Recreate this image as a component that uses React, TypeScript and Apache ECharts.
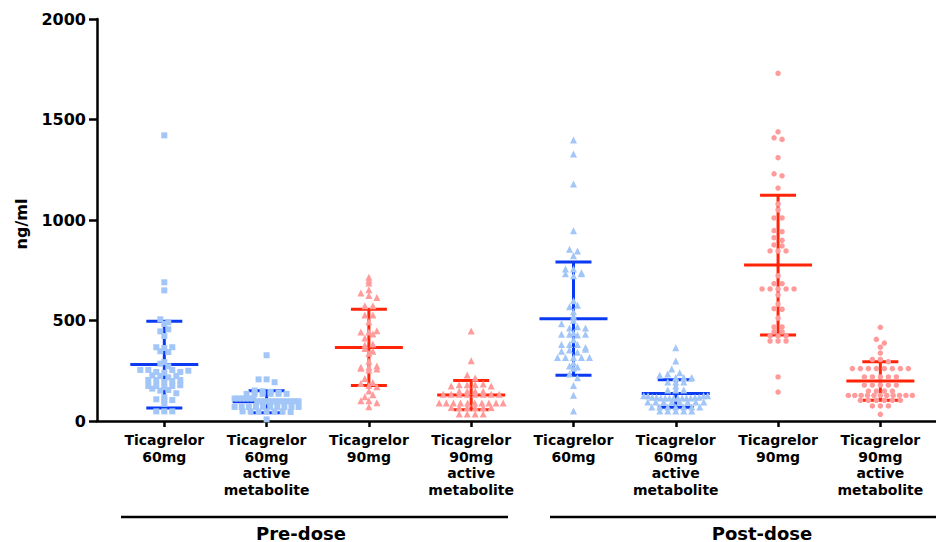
import React, { useEffect, useRef } from "react";
import * as echarts from "echarts";

const categories = [
  "Ticagrelor\n60mg",
  "Ticagrelor\n60mg\nactive\nmetabolite",
  "Ticagrelor\n90mg",
  "Ticagrelor\n90mg\nactive\nmetabolite",
  "Ticagrelor\n60mg",
  "Ticagrelor\n60mg\nactive\nmetabolite",
  "Ticagrelor\n90mg",
  "Ticagrelor\n90mg\nactive\nmetabolite",
];
const groupLabels = ["Pre-dose", "Post-dose"];
const yTicks = [0, 500, 1000, 1500, 2000];
const yTitle = "ng/ml";

const pre60 = [1421, 690, 650, 506, 491, 483, 446, 456, 423, 367, 347, 343, 363, 367, 285, 272, 293,
  254, 254, 244, 240, 254, 227, 244, 250, 224, 204, 204, 194, 199, 204, 217, 224,
  174, 174, 161, 151, 154, 138, 168, 174, 178, 108, 104, 118, 85, 104, 48, 48, 48];
const pre60AM = [327, 207, 207, 193, 152, 148, 145, 142, 135, 135, 135, 135, 135, 135,
  112, 112, 112, 112, 112, 112, 98, 98, 98, 98, 98, 98, 98, 98, 98, 98, 98, 98,
  70, 70, 70, 70, 70, 70, 70, 70, 70, 70, 48, 48, 48, 48, 48, 48, 45, 8];
const pre90 = [715, 687, 700, 653, 637, 625, 615, 574, 574, 527, 527, 494, 443, 443, 449, 413, 433,
  378, 383, 361, 347, 337, 297, 267, 262, 254, 259, 267, 274, 212, 187, 192, 176, 171, 149, 121,
  131, 101, 101, 91, 71];
const pre90AM = [448, 300, 229, 214, 174, 180, 180, 180, 184, 174, 148, 148, 148, 148,
  133, 133, 133, 133, 133, 133, 133, 133, 89, 89, 89, 89, 89, 89, 89, 89, 89, 89,
  67, 67, 67, 67, 67, 67, 35, 35, 35, 35];
const post60 = [1398, 1328, 1179, 947, 854, 846, 822, 756, 756, 733, 723, 733, 738, 598, 569, 576,
  544, 521, 501, 484, 463, 469, 463, 431, 431, 438, 428, 431, 404, 381, 381, 381, 366, 347, 353,
  342, 357, 316, 316, 316, 316, 316, 274, 262, 269, 289, 234, 215, 177, 128, 50];
const post60AM = [365, 299, 259, 240, 227, 234, 216, 216, 216, 194, 194, 194, 174, 154, 154, 154,
  126, 126, 118, 118, 114, 114, 114, 114, 114, 114, 114, 114, 118, 118, 126, 126,
  95, 95, 95, 95, 95, 95, 95, 95, 70, 70, 70, 70, 70, 70, 70, 50, 50, 50, 50, 50];
const post90 = [1730, 1439, 1409, 1401, 1310, 1230, 1220, 1159, 1080, 1050, 1010, 1010, 947, 942,
  912, 899, 876, 871, 846, 846, 846, 723, 683, 683, 657, 657, 657, 657, 657, 627, 582, 559, 556,
  512, 468, 468, 444, 444, 423, 423, 423, 398, 398, 398, 219, 144];
const post90AM = [466, 406, 367, 388, 338, 306, 306, 295, 261, 261, 261, 261, 261, 261, 261, 261,
  219, 219, 219, 219, 219, 179, 179, 179, 179, 179, 149, 149, 149, 149,
  127, 127, 127, 127, 127, 127, 127, 127, 127, 127, 127, 103, 103, 103, 103, 103, 103,
  75, 75, 75, 33];

const means = [280.5, 96, 366, 129, 509, 136.5, 775.5, 199];
const sds = [215.5, 55, 190, 73, 282, 68.5, 347.5, 96];

const groups = [pre60, pre60AM, pre90, pre90AM, post60, post60AM, post90, post90AM];
const symbols = ["rect", "rect", "triangle", "triangle", "triangle", "triangle", "circle", "circle"];
const symbolSizes = [6, 6, 7, 7, 7, 7, 5.5, 5.5];
const BLUE = "#0a3af2";
const RED = "#ff2408";
const LBLUE = "#a2c6f7";
const LRED = "#ff9b9b";
const barColors = [BLUE, BLUE, RED, RED, BLUE, BLUE, RED, RED];
const pointColors = [LBLUE, LBLUE, LRED, LRED, LBLUE, LBLUE, LRED, LRED];

const X_MIN = 0.342;
const X_MAX = 8.544;
const PX_PER_X = 102.29;

function swarm(values: number[], center: number): number[][] {
  const rowH = 25;
  const stepX = 8 / PX_PER_X;
  const maxHalf = 32 / PX_PER_X;
  const rows = new Map<number, number[]>();
  values.forEach((v) => {
    const k = Math.round(v / rowH);
    if (!rows.has(k)) rows.set(k, []);
    rows.get(k)!.push(v);
  });
  const out: number[][] = [];
  rows.forEach((vs) => {
    const n = vs.length;
    const step = n > 1 ? Math.min(stepX, (2 * maxHalf) / (n - 1)) : 0;
    vs.forEach((v, i) => out.push([center + (i - (n - 1) / 2) * step, v]));
  });
  return out;
}

const FONT = "DejaVu Sans";

export default function App() {
  const ref = useRef<HTMLDivElement>(null);
  useEffect(() => {
    if (!ref.current) return;
    const chart = echarts.init(ref.current, undefined, { renderer: "svg" });
    const scatterSeries = groups.map((vals, gi) => ({
      type: "scatter",
      data: swarm(vals, gi + 1),
      symbol: symbols[gi],
      symbolSize: symbolSizes[gi],
      itemStyle: { color: pointColors[gi], opacity: 1 },
      z: 3,
      silent: true,
    }));
    chart.setOption({
      animation: false,
      grid: { left: 97, right: 0, top: 19, bottom: 121 },
      xAxis: {
        type: "value",
        min: X_MIN,
        max: X_MAX,
        splitLine: { show: false },
        axisLine: { show: true, lineStyle: { color: "#000", width: 2.5 } },
        axisTick: {
          show: true,
          customValues: [1, 2, 3, 4, 5, 6, 7, 8],
          length: 6,
          lineStyle: { color: "#000", width: 2.5 },
        },
        axisLabel: {
          customValues: [1, 2, 3, 4, 5, 6, 7, 8],
          formatter: (v: number) => categories[Math.round(v) - 1] ?? "",
          fontFamily: FONT,
          fontWeight: "bold",
          fontSize: 14,
          lineHeight: 16.5,
          color: "#000",
          margin: 11,
          align: "center",
        },
      },
      yAxis: {
        type: "value",
        min: 0,
        max: 2000,
        interval: 500,
        splitLine: { show: false },
        axisLine: { show: true, lineStyle: { color: "#000", width: 2.5 } },
        axisTick: { show: true, length: 8, lineStyle: { color: "#000", width: 2.5 } },
        axisLabel: {
          fontFamily: FONT,
          fontWeight: "bold",
          fontSize: 16,
          color: "#000",
          margin: 11,
          formatter: (v: number) => (yTicks.includes(v) ? String(v) : ""),
        },
      },
      series: [
        {
          type: "custom",
          silent: true,
          z: 2,
          renderItem: (params: any, api: any) => {
            const x = api.value(0);
            const m = api.value(1);
            const sd = api.value(2);
            const c = api.coord([x, m]);
            const top = api.coord([x, m + sd]);
            const bot = api.coord([x, m - sd]);
            const style = { stroke: barColors[params.dataIndex], lineWidth: 3 };
            return {
              type: "group",
              children: [
                { type: "line", shape: { x1: c[0], y1: top[1], x2: c[0], y2: bot[1] }, style },
                { type: "line", shape: { x1: c[0] - 34, y1: c[1], x2: c[0] + 34, y2: c[1] }, style },
                { type: "line", shape: { x1: c[0] - 18, y1: top[1], x2: c[0] + 18, y2: top[1] }, style },
                { type: "line", shape: { x1: c[0] - 18, y1: bot[1], x2: c[0] + 18, y2: bot[1] }, style },
              ],
            };
          },
          data: means.map((m, i) => [i + 1, m, sds[i]]),
        },
        ...scatterSeries,
      ],
      graphic: [
        {
          type: "text",
          x: 21,
          y: 224,
          rotation: Math.PI / 2,
          style: {
            text: yTitle,
            fontFamily: FONT,
            fontWeight: "bold",
            fontSize: 16,
            fill: "#000",
            textAlign: "center",
            textVerticalAlign: "middle",
          },
        },
        {
          type: "line",
          shape: { x1: 121, y1: 517, x2: 508, y2: 517 },
          style: { stroke: "#000", lineWidth: 2.5 },
        },
        {
          type: "text",
          x: 301,
          y: 533,
          style: {
            text: groupLabels[0],
            fontFamily: FONT,
            fontWeight: "bold",
            fontSize: 18,
            fill: "#000",
            textAlign: "center",
            textVerticalAlign: "middle",
          },
        },
        {
          type: "line",
          shape: { x1: 550, y1: 517, x2: 936, y2: 517 },
          style: { stroke: "#000", lineWidth: 2.5 },
        },
        {
          type: "text",
          x: 762,
          y: 533,
          style: {
            text: groupLabels[1],
            fontFamily: FONT,
            fontWeight: "bold",
            fontSize: 18,
            fill: "#000",
            textAlign: "center",
            textVerticalAlign: "middle",
          },
        },
      ],
    });
    return () => chart.dispose();
  }, []);
  return (
    <div
      ref={ref}
      style={{ position: "fixed", left: 0, top: 0, width: 936, height: 542, background: "#fff" }}
    />
  );
}
